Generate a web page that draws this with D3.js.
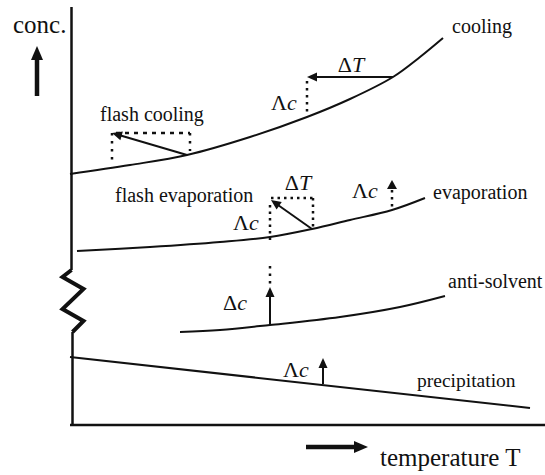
<!DOCTYPE html>
<html>
<head>
<meta charset="utf-8">
<script src="https://cdn.jsdelivr.net/npm/d3@7"></script>
<style>
  body { margin: 0; background: #fff; }
  text { font-family: "Liberation Serif", "DejaVu Serif", serif; fill: #111; }
</style>
</head>
<body>
<svg id="chart" width="545" height="475"></svg>
<script>
// Schematic solubility diagram: concentration vs temperature (arbitrary units)
const coolingCurve = [[0,251],[60,260],[117,270],[180,288],[237,308],[280,326],[323,348],[350,368],[373,387]];
const evaporationCurve = [[7,174],[80,178],[150,183],[200,188],[242,196],[280,205],[322,215],[355,227]];
const antiSolventCurve = [[110,93],[150,95],[200,100],[270,108],[330,118],[375,129]];
const precipitationCurve = [[0,68],[460,17]];

// Axis break (zigzag) on the concentration axis, offsets in T units / c units
const axisBreak = [[1,155],[-8,148],[13,136],[-8,116],[13,104],[2,93]];

// Curve names and where they are written
const curveLabels = [
  { text: "cooling",       T: 382, c: 392 },
  { text: "evaporation",   T: 363, c: 226 },
  { text: "anti-solvent",  T: 378, c: 137 },
  { text: "precipitation", T: 347, c: 38 }
];
const methodLabels = [
  { text: "flash cooling",     T: 30, c: 304 },
  { text: "flash evaporation", T: 45, c: 223 }
];

// Process steps: solid arrows (from -> to)
const stepArrows = [
  { from: [323,348], to: [237,348] },   // cooling: ΔT
  { from: [117,270], to: [42,292] },    // flash cooling
  { from: [242,196], to: [201,225] },   // flash evaporation
  { from: [200,100], to: [200,138] },   // anti-solvent: Δc
  { from: [253,41],  to: [253,67] }     // precipitation: Δc
];
// Dotted construction lines (dash: short dots or longer dashes)
const dottedLines = [
  { from: [237,344], to: [237,309], dash: "2.5,4.5" },   // cooling Δc
  { from: [46,292],  to: [120,292], dash: "4,5" },       // flash cooling box top
  { from: [42,292],  to: [42,262],  dash: "2.5,5.5" },
  { from: [120,292], to: [120,274], dash: "2.5,5.5" },
  { from: [201,227], to: [243,227], dash: "2.5,4" },     // flash evaporation box top
  { from: [243,227], to: [243,197], dash: "2.5,4" },
  { from: [200,220], to: [200,185], dash: "2.5,4" },
  { from: [322,235], to: [322,215], dash: "2.5,4.5" },   // evaporation Δc
  { from: [200,159], to: [200,140], dash: "2.5,5" }      // anti-solvent overshoot
];
// Small arrowhead on evaporation Δc
const evapHead = { tip: [322,245], base: [322,236] };

// Δ labels: sym, italic var, position
const deltaLabels = [
  { sym: "\u0394", v: "T", T: 281, c: 353, anchor: "middle" },
  { sym: "\u039B", v: "c", T: 201, c: 315, anchor: "start" },
  { sym: "\u0394", v: "T", T: 228, c: 235, anchor: "middle" },
  { sym: "\u039B", v: "c", T: 163, c: 195, anchor: "start" },
  { sym: "\u039B", v: "c", T: 282, c: 227, anchor: "start" },
  { sym: "\u0394", v: "c", T: 153, c: 115, anchor: "start" },
  { sym: "\u039B", v: "c", T: 213, c: 48,  anchor: "start" }
];

const svg = d3.select("#chart");
const x = d3.scaleLinear().domain([0, 475]).range([70, 545]);
const y = d3.scaleLinear().domain([0, 418]).range([425, 7]);

// Axes
const ax = x(0) + 1.5;
svg.append("line").attr("x1", ax).attr("y1", y(418)).attr("x2", ax).attr("y2", y(155))
  .attr("stroke", "#111").attr("stroke-width", 2.5);
svg.append("path")
  .attr("d", d3.line().x(d => ax + d[0]).y(d => y(d[1])).curve(d3.curveLinear)(axisBreak.map(d => [d[0] - 1, d[1]])))
  .attr("fill", "none").attr("stroke", "#111").attr("stroke-width", 4).attr("stroke-linejoin", "miter");
svg.append("line").attr("x1", ax + 1).attr("y1", y(93)).attr("x2", ax + 1).attr("y2", y(0))
  .attr("stroke", "#111").attr("stroke-width", 2.5);
svg.append("line").attr("x1", x(0)).attr("y1", y(0)).attr("x2", x(475)).attr("y2", y(0))
  .attr("stroke", "#111").attr("stroke-width", 2.5);

// Curves
const line = d3.line().x(d => x(d[0])).y(d => y(d[1])).curve(d3.curveCatmullRom.alpha(0.5));
[coolingCurve, evaporationCurve, antiSolventCurve, precipitationCurve].forEach(c => {
  svg.append("path").attr("d", line(c)).attr("fill", "none")
    .attr("stroke", "#111").attr("stroke-width", 2);
});

// Arrow helper (pixel space)
function arrow(g, x1, y1, x2, y2, w, hl, hw) {
  const a = Math.atan2(y2 - y1, x2 - x1);
  const bx = x2 - hl * Math.cos(a), by = y2 - hl * Math.sin(a);
  g.append("line").attr("x1", x1).attr("y1", y1).attr("x2", bx + Math.cos(a)).attr("y2", by + Math.sin(a))
    .attr("stroke", "#111").attr("stroke-width", w);
  const px = -Math.sin(a) * hw, py = Math.cos(a) * hw;
  g.append("path")
    .attr("d", `M${x2},${y2}L${bx + px},${by + py}L${bx - px},${by - py}Z`)
    .attr("fill", "#111");
}

stepArrows.forEach(s => arrow(svg, x(s.from[0]), y(s.from[1]), x(s.to[0]), y(s.to[1]), 2, 10, 4.5));

dottedLines.forEach(d => {
  svg.append("line")
    .attr("x1", x(d.from[0])).attr("y1", y(d.from[1]))
    .attr("x2", x(d.to[0])).attr("y2", y(d.to[1]))
    .attr("stroke", "#111").attr("stroke-width", 2.5).attr("stroke-dasharray", d.dash);
});
{
  const tx = x(evapHead.tip[0]), ty = y(evapHead.tip[1]), by = y(evapHead.base[1]);
  svg.append("path").attr("d", `M${tx},${ty}L${tx + 5},${by}L${tx - 5},${by}Z`).attr("fill", "#111");
}

// Axis titles with thick arrows
svg.append("text").attr("x", 13).attr("y", 33).attr("font-size", 25).text("conc.");
arrow(svg, 37, 96, 37, 46, 4.5, 14, 6);
arrow(svg, 306, 447, 368, 447, 4.5, 14, 6);
svg.append("text").attr("x", 380).attr("y", 466).attr("font-size", 25).text("temperature T");

// Curve and method labels
curveLabels.forEach(l => svg.append("text").attr("x", x(l.T)).attr("y", y(l.c))
  .attr("font-size", l.text === "precipitation" ? 19.5 : 20).text(l.text));
methodLabels.forEach(l => svg.append("text").attr("x", x(l.T)).attr("y", y(l.c))
  .attr("font-size", 20).text(l.text));

// Δ labels
deltaLabels.forEach(l => {
  const t = svg.append("text").attr("x", x(l.T)).attr("y", y(l.c))
    .attr("font-size", 22).attr("text-anchor", l.anchor);
  t.append("tspan").text(l.sym);
  t.append("tspan").attr("font-style", "italic").text(l.v);
});
</script>
</body>
</html>
